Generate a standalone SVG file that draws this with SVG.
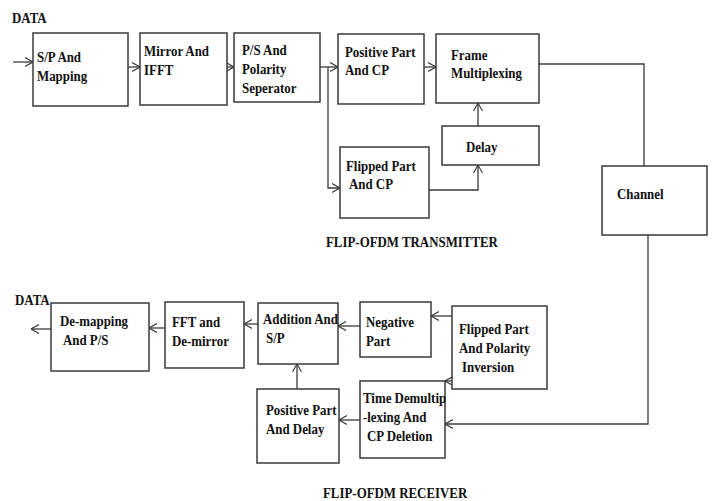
<svg xmlns="http://www.w3.org/2000/svg" width="712" height="501" viewBox="0 0 712 501">
<defs>
<style>
.box{fill:#fff;stroke:#3a3a3a;stroke-width:1.5}
.ln{fill:none;stroke:#3a3a3a;stroke-width:1.3}
.ar{fill:none;stroke:#3a3a3a;stroke-width:1.3;marker-end:url(#ah)}
text{font-family:"Liberation Serif","Times New Roman",serif;font-weight:bold;font-size:15px;fill:#111}
</style>
<marker id="ah" viewBox="0 0 8 10" refX="8" refY="5" markerWidth="8" markerHeight="10" markerUnits="userSpaceOnUse" orient="auto">
<path d="M0,0.5 L8,5 L0,9.5" fill="none" stroke="#3a3a3a" stroke-width="1.1"/>
</marker>
</defs>
<rect width="712" height="501" fill="#fff"/>

<g id="connectors">
<line class="ar" x1="13" y1="62" x2="33" y2="62"/>
<line class="ar" x1="128" y1="67" x2="140" y2="67"/>
<line class="ar" x1="227" y1="67" x2="234" y2="67"/>
<line class="ar" x1="320" y1="67" x2="338" y2="67"/>
<polyline class="ar" points="328,67 328,188 340,188"/>
<line class="ar" x1="424" y1="67" x2="436" y2="67"/>
<line class="ar" x1="478" y1="126" x2="478" y2="103"/>
<polyline class="ar" points="429,190 478,190 478,165"/>
<polyline class="ln" points="539,64 644,64 644,166"/>
<polyline class="ar" points="648,235 648,424 445,424"/>
<line class="ar" x1="452" y1="316" x2="431" y2="316"/>
<line class="ar" x1="452" y1="381" x2="445" y2="381"/>
<line class="ar" x1="360" y1="326" x2="338" y2="326"/>
<line class="ar" x1="360" y1="420" x2="339" y2="420"/>
<line class="ar" x1="297" y1="389" x2="297" y2="364"/>
<line class="ar" x1="258" y1="324" x2="244" y2="324"/>
<line class="ar" x1="165" y1="328" x2="149" y2="328"/>
<line class="ar" x1="51" y1="329" x2="31" y2="329"/>
</g>

<g id="labels">
<text transform="matrix(0.86 0 0 1 12 23)">DATA</text>
<text transform="matrix(0.86 0 0 1 326 247)">FLIP-OFDM TRANSMITTER</text>
<text transform="matrix(0.86 0 0 1 15 305)">DATA</text>
<text transform="matrix(0.86 0 0 1 323 498)">FLIP-OFDM RECEIVER</text>
</g>

<g id="sp-mapping">
<rect class="box" x="33" y="33" width="95" height="73"/>
<text transform="matrix(0.86 0 0 1 37 62)">S/P And</text>
<text transform="matrix(0.86 0 0 1 37 81)">Mapping</text>
</g>
<g id="mirror-ifft">
<rect class="box" x="140" y="33" width="87" height="72"/>
<text transform="matrix(0.86 0 0 1 144 56)">Mirror And</text>
<text transform="matrix(0.86 0 0 1 144 75)">IFFT</text>
</g>
<g id="ps-polarity">
<rect class="box" x="234" y="33" width="86" height="69"/>
<text transform="matrix(0.86 0 0 1 242 55)">P/S And</text>
<text transform="matrix(0.86 0 0 1 242 74)">Polarity</text>
<text transform="matrix(0.86 0 0 1 242 93)">Seperator</text>
</g>
<g id="positive-cp">
<rect class="box" x="338" y="34" width="86" height="70"/>
<text transform="matrix(0.86 0 0 1 345 57)">Positive Part</text>
<text transform="matrix(0.86 0 0 1 345 75)">And CP</text>
</g>
<g id="frame-mux">
<rect class="box" x="436" y="34" width="103" height="69"/>
<text transform="matrix(0.86 0 0 1 451 60)">Frame</text>
<text transform="matrix(0.86 0 0 1 451 78)">Multiplexing</text>
</g>
<g id="delay">
<rect class="box" x="442" y="126" width="97" height="39"/>
<text transform="matrix(0.86 0 0 1 466 152)">Delay</text>
</g>
<g id="flipped-cp">
<rect class="box" x="340" y="147" width="89" height="71"/>
<text transform="matrix(0.86 0 0 1 346 171)">Flipped Part</text>
<text transform="matrix(0.86 0 0 1 349 189)">And CP</text>
</g>
<g id="channel">
<rect class="box" x="602" y="166" width="105" height="69"/>
<text transform="matrix(0.86 0 0 1 617 199)">Channel</text>
</g>

<g id="flipped-inversion">
<rect class="box" x="452" y="306" width="95" height="83"/>
<text transform="matrix(0.86 0 0 1 459 334)">Flipped Part</text>
<text transform="matrix(0.86 0 0 1 459 353)">And Polarity</text>
<text transform="matrix(0.86 0 0 1 462 372)">Inversion</text>
</g>
<g id="negative">
<rect class="box" x="360" y="302" width="71" height="55"/>
<text transform="matrix(0.86 0 0 1 366 327)">Negative</text>
<text transform="matrix(0.86 0 0 1 366 346)">Part</text>
</g>
<g id="time-demux">
<rect class="box" x="360" y="381" width="85" height="77"/>
<text transform="matrix(0.86 0 0 1 363 403)">Time Demultip</text>
<text transform="matrix(0.86 0 0 1 363 422)">-lexing And</text>
<text transform="matrix(0.86 0 0 1 367 441)">CP Deletion</text>
</g>
<g id="positive-delay">
<rect class="box" x="257" y="389" width="82" height="74"/>
<text transform="matrix(0.86 0 0 1 266 415)">Positive Part</text>
<text transform="matrix(0.86 0 0 1 266 434)">And Delay</text>
</g>
<g id="addition-sp">
<rect class="box" x="258" y="303" width="80" height="61"/>
<text transform="matrix(0.86 0 0 1 263 324)">Addition And</text>
<text transform="matrix(0.86 0 0 1 266 343)">S/P</text>
</g>
<g id="fft-demirror">
<rect class="box" x="165" y="302" width="79" height="66"/>
<text transform="matrix(0.86 0 0 1 172 327)">FFT and</text>
<text transform="matrix(0.86 0 0 1 172 346)">De-mirror</text>
</g>
<g id="demapping-ps">
<rect class="box" x="51" y="303" width="98" height="68"/>
<text transform="matrix(0.86 0 0 1 60 326)">De-mapping</text>
<text transform="matrix(0.86 0 0 1 63 345)">And P/S</text>
</g>
</svg>
